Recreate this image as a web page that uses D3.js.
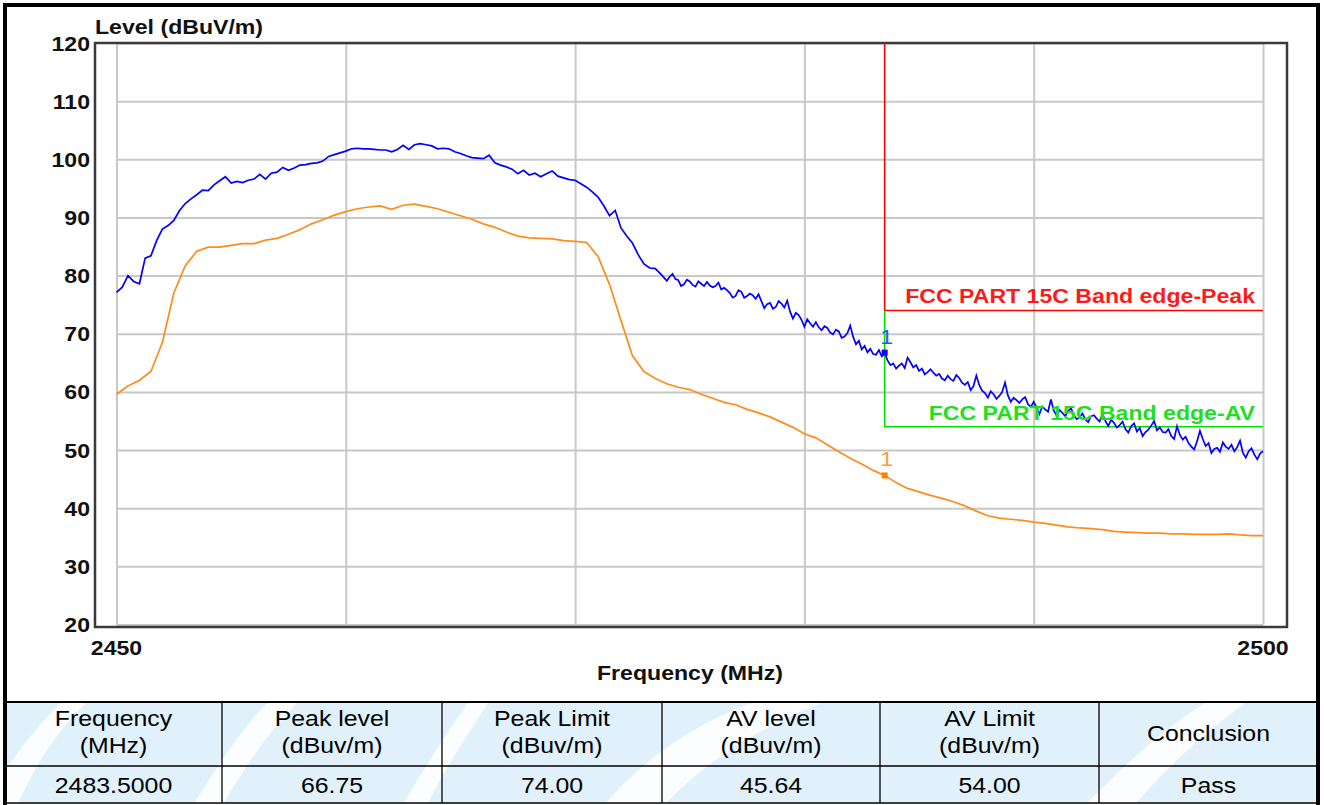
<!DOCTYPE html>
<html><head><meta charset="utf-8">
<script src="https://cdn.jsdelivr.net/npm/d3@7"></script>
<style>
body{margin:0;background:#fff}
svg{display:block}
text{font-family:"Liberation Sans",Arial,sans-serif}
</style></head>
<body>
<svg id="chart" width="1324" height="805"></svg>
<script>
// ---------- data ----------
const freqDomain = [2450, 2500];
const peakLowStart = 2450, peakLowStep = 0.25;     // coarse part of the peak sweep
const peakHighStart = 2474, peakHighStep = 0.125;  // fine part of the peak sweep
const avStep = 0.5;
const yTicks = [20, 30, 40, 50, 60, 70, 80, 90, 100, 110, 120];
const xGridTicks = [2450, 2460, 2470, 2480, 2490, 2500];
const xTickLabels = [2450, 2500];

const peakLevelsLow = [
 77.1,78.0,80.0,79.0,78.6,83.0,83.4,86.0,88.0,88.6,
 89.5,91.2,92.4,93.2,93.9,94.7,94.6,95.6,96.3,97.0,
 95.9,96.2,96.0,96.4,96.6,97.4,96.6,97.6,97.8,98.6,
 98.1,98.5,99.0,99.1,99.3,99.4,99.7,100.5,100.8,101.1,
 101.4,101.8,101.9,101.8,101.8,101.7,101.6,101.6,101.3,101.7,
 102.4,101.7,102.5,102.7,102.5,102.3,101.8,101.9,101.8,101.3,
 101.0,100.6,100.3,100.2,100.1,100.7,99.4,99.0,98.7,98.3,
 97.5,98.1,97.3,97.6,97.0,97.5,98.0,97.1,96.8,96.5,
 96.4,95.8,95.2,94.4,93.5,92.0,90.3,91.2,88.2,86.8,
 85.6,83.6,82.0,81.3,81.2,80.2];

const peakLevelsHigh = [
 79.1,79.8,80.3,79.4,79.2,78.2,78.5,79.3,
 79.0,78.4,78.1,79.0,78.6,78.2,78.9,78.3,
 78.0,78.2,78.8,77.6,77.9,77.5,77.0,76.2,
 76.5,77.5,77.2,76.2,76.5,76.9,76.6,76.0,
 76.8,75.6,74.4,75.1,75.3,74.3,74.6,75.6,
 75.2,74.5,75.7,73.8,72.6,73.6,73.2,72.4,
 71.2,72.5,71.8,71.2,72.0,71.1,70.6,71.3,
 71.0,70.2,69.9,70.7,70.4,69.3,69.5,70.1,
 71.4,69.5,68.2,68.8,67.3,67.9,66.8,67.4,
 66.5,66.4,67.2,66.1,66.75,65.4,64.6,64.9,
 64.0,64.5,64.9,64.1,65.9,65.1,64.2,64.6,
 63.6,64.0,63.0,63.4,63.9,63.3,62.8,63.1,
 62.3,62.0,62.8,62.2,61.9,62.9,62.4,61.6,
 61.2,61.7,60.3,61.0,62.8,61.2,60.2,59.8,
 59.0,60.1,59.6,58.8,59.3,60.0,61.6,59.4,
 58.3,59.0,58.6,58.1,58.7,59.1,57.9,57.4,
 58.3,57.3,56.2,57.5,57.0,56.6,58.7,56.8,
 55.9,56.9,56.4,55.8,56.7,57.2,56.0,55.3,
 55.6,56.3,55.3,54.8,55.8,56.0,55.4,54.9,
 56.2,55.0,54.1,55.2,54.7,53.9,54.3,54.9,
 53.6,53.0,54.1,54.6,53.2,53.8,52.4,53.1,
 53.5,54.2,55.0,53.4,53.9,53.1,53.0,53.6,
 52.4,51.9,54.1,52.6,51.8,52.3,51.2,50.6,
 50.1,51.5,53.3,51.9,50.7,51.2,49.5,50.2,
 50.4,49.7,51.3,50.6,50.2,50.9,49.8,50.5,
 51.6,49.5,48.7,49.8,50.3,49.2,48.4,49.4,
 49.8];

const avLevels = [
 59.6,61.0,62.0,63.5,68.5,77.0,81.7,84.2,84.9,84.9,
 85.2,85.5,85.5,86.1,86.4,87.1,87.9,88.9,89.6,90.4,
 91.0,91.5,91.8,92.0,91.4,92.1,92.3,91.9,91.5,90.9,
 90.3,89.7,88.9,88.3,87.5,86.8,86.5,86.4,86.3,86.0,
 85.9,85.7,83.3,78.5,72.3,66.2,63.5,62.3,61.4,60.8,
 60.4,59.6,58.9,58.2,57.8,57.0,56.4,55.7,54.8,53.9,
 52.8,52.1,50.9,49.7,48.6,47.6,46.5,45.64,44.4,43.4,
 42.8,42.2,41.7,41.1,40.4,39.5,38.7,38.3,38.1,37.9,
 37.6,37.4,37.1,36.8,36.6,36.5,36.3,36.0,35.9,35.8,
 35.7,35.7,35.6,35.6,35.5,35.5,35.5,35.6,35.4,35.3,
 35.3];

const peakLimit = 74;
const avLimit = 54;
const markerFreq = 2483.5;
const markerPeak = 66.75;
const markerAV = 45.64;
const peakLimitLabel = "FCC PART 15C Band edge-Peak";
const avLimitLabel = "FCC PART 15C Band edge-AV";
const yAxisTitle = "Level (dBuV/m)";
const xAxisTitle = "Frequency (MHz)";

const tableHeaders = [
  ["Frequency", "(MHz)"],
  ["Peak level", "(dBuv/m)"],
  ["Peak Limit", "(dBuv/m)"],
  ["AV level", "(dBuv/m)"],
  ["AV Limit", "(dBuv/m)"],
  ["Conclusion"]
];
const tableValues = ["2483.5000", "66.75", "74.00", "45.64", "54.00", "Pass"];

// ---------- drawing ----------
const svg = d3.select("#chart");
const SX = 1.1;   // horizontal stretch of the original lettering

const x = d3.scaleLinear().domain(freqDomain).range([116.5, 1263]);
const y = d3.scaleLinear().domain([20, 120]).range([624.5, 43]);

const peakData = peakLevelsLow.map((v, i) => ({f: peakLowStart + i * peakLowStep, v}))
  .concat(peakLevelsHigh.map((v, i) => ({f: peakHighStart + i * peakHighStep, v})));
const avData = avLevels.map((v, i) => ({f: freqDomain[0] + i * avStep, v}));

function label(g, px, py, s, o = {}) {
  return g.append("text")
    .attr("transform", `translate(${px},${py}) scale(${o.sx || SX},1)`)
    .attr("text-anchor", o.anchor || "start")
    .attr("font-size", o.size || 21)
    .attr("font-weight", o.weight || "bold")
    .attr("fill", o.fill || "#111")
    .text(s);
}

// grid via axes
const yAxis = d3.axisLeft(y).tickValues(yTicks).tickSizeInner(-(1263 - 116.5)).tickSizeOuter(0).tickFormat("");
const gy = svg.append("g").attr("transform", "translate(116.5,0)").call(yAxis);
gy.select(".domain").remove();
gy.selectAll(".tick line").attr("stroke", "#c8c8c8").attr("stroke-width", 2);

const xAxis = d3.axisBottom(x).tickValues(xGridTicks).tickSizeInner(-(624.5 - 43)).tickSizeOuter(0).tickFormat("");
const gx = svg.append("g").attr("transform", "translate(0,624.5)").call(xAxis);
gx.select(".domain").remove();
gx.selectAll(".tick line").attr("stroke", "#c8c8c8").attr("stroke-width", 2);

// frame
svg.append("rect").attr("x", 95).attr("y", 43).attr("width", 1192).attr("height", 584)
  .attr("fill", "none").attr("stroke", "#3a3a3a").attr("stroke-width", 2.5);

// tick labels
const labels = svg.append("g");
yTicks.forEach(t => label(labels, 90, y(t) + 7.5, String(t), {anchor: "end"}));
xTickLabels.forEach(t => label(labels, x(t), 655, String(t), {anchor: "middle"}));
label(labels, 95, 34, yAxisTitle);
label(labels, 690, 680, xAxisTitle, {anchor: "middle"});

// limit lines
const mx = x(markerFreq);
svg.append("path")
  .attr("d", `M${mx},${y(120)}V${y(peakLimit)}H${x(freqDomain[1])}`)
  .attr("fill", "none").attr("stroke", "#ff0000").attr("stroke-width", 1.6);
svg.append("path")
  .attr("d", `M${mx},${y(peakLimit)}V${y(avLimit)}H${x(freqDomain[1])}`)
  .attr("fill", "none").attr("stroke", "#00e000").attr("stroke-width", 1.6);

// traces
const line = d3.line().x(d => x(d.f)).y(d => y(d.v));
svg.append("path").datum(avData).attr("d", line)
  .attr("fill", "none").attr("stroke", "#ff8c1a").attr("stroke-width", 1.7);
svg.append("path").datum(peakData).attr("d", line)
  .attr("fill", "none").attr("stroke", "#0000ff").attr("stroke-width", 1.7);

// limit labels
label(svg, x(freqDomain[1]) - 8, y(peakLimit) - 7, peakLimitLabel, {anchor: "end", fill: "#ff1a1a"});
label(svg, x(freqDomain[1]) - 8, y(avLimit) - 7, avLimitLabel, {anchor: "end", fill: "#1ee01e"});

// markers
[[markerPeak, "#0000ff", "#3050ff"], [markerAV, "#ff8000", "#ff9a40"]].forEach(([v, c, tc]) => {
  svg.append("rect").attr("x", mx - 3).attr("y", y(v) - 3).attr("width", 6).attr("height", 6).attr("fill", c);
  label(svg, mx + 2, y(v) - 9, "1", {anchor: "middle", weight: "normal", fill: tc});
});

// ---------- table ----------
const colX = [5, 222, 442, 662, 880, 1099, 1318];
const rowY = [702, 766, 803];
const tg = svg.append("g");
const defs = svg.append("defs");
defs.append("clipPath").attr("id", "tclip").append("rect")
  .attr("x", colX[0]).attr("y", rowY[0]).attr("width", colX[6] - colX[0]).attr("height", rowY[2] - rowY[0]);
const bg = tg.append("g").attr("clip-path", "url(#tclip)");
bg.append("rect").attr("x", colX[0]).attr("y", rowY[0]).attr("width", colX[6] - colX[0]).attr("height", rowY[2] - rowY[0])
  .attr("fill", "#e0f1fb");
// white watermark swooshes
const swooshes = [
  "M-20,810 C10,760 40,720 70,695 L95,695 C60,725 35,765 15,810 Z",
  "M190,810 C215,770 240,730 270,700 L300,700 C265,735 240,775 220,810 Z",
  "M400,810 C420,775 445,735 470,700 L490,700 C465,740 440,775 425,810 Z",
  "M600,810 C640,760 700,720 760,700 L830,700 C760,725 700,765 660,810 Z",
  "M1080,810 C1120,770 1160,730 1210,700 L1250,700 C1200,735 1160,775 1130,810 Z"
];
bg.selectAll("path.sw").data(swooshes).join("path").attr("class", "sw").attr("d", d => d).attr("fill", "#ffffff").attr("opacity", 0.85);

// grid lines of table
tg.append("line").attr("x1", 3).attr("x2", 1320).attr("y1", rowY[0]).attr("y2", rowY[0]).attr("stroke", "#000").attr("stroke-width", 2);
tg.append("line").attr("x1", 3).attr("x2", 1320).attr("y1", rowY[1]).attr("y2", rowY[1]).attr("stroke", "#000").attr("stroke-width", 1.3);
tg.append("line").attr("x1", 3).attr("x2", 1320).attr("y1", rowY[2]).attr("y2", rowY[2]).attr("stroke", "#000").attr("stroke-width", 1.5);
colX.slice(1, 6).forEach(cx => tg.append("line").attr("x1", cx).attr("x2", cx).attr("y1", rowY[0]).attr("y2", rowY[2]).attr("stroke", "#000").attr("stroke-width", 1.3));

const tOpt = {anchor: "middle", weight: "normal", size: 22, sx: 1.13, fill: "#000"};
tableHeaders.forEach((lines, i) => {
  const cx = (colX[i] + colX[i + 1]) / 2;
  if (lines.length === 2) {
    label(tg, cx, 726, lines[0], tOpt);
    label(tg, cx, 753, lines[1], tOpt);
  } else {
    label(tg, cx, 741, lines[0], tOpt);
  }
  label(tg, cx, 793, tableValues[i], tOpt);
});

// outer border
svg.append("path").attr("d", "M5,805V5H1318V805").attr("fill", "none").attr("stroke", "#000").attr("stroke-width", 4);
</script>
</body></html>
